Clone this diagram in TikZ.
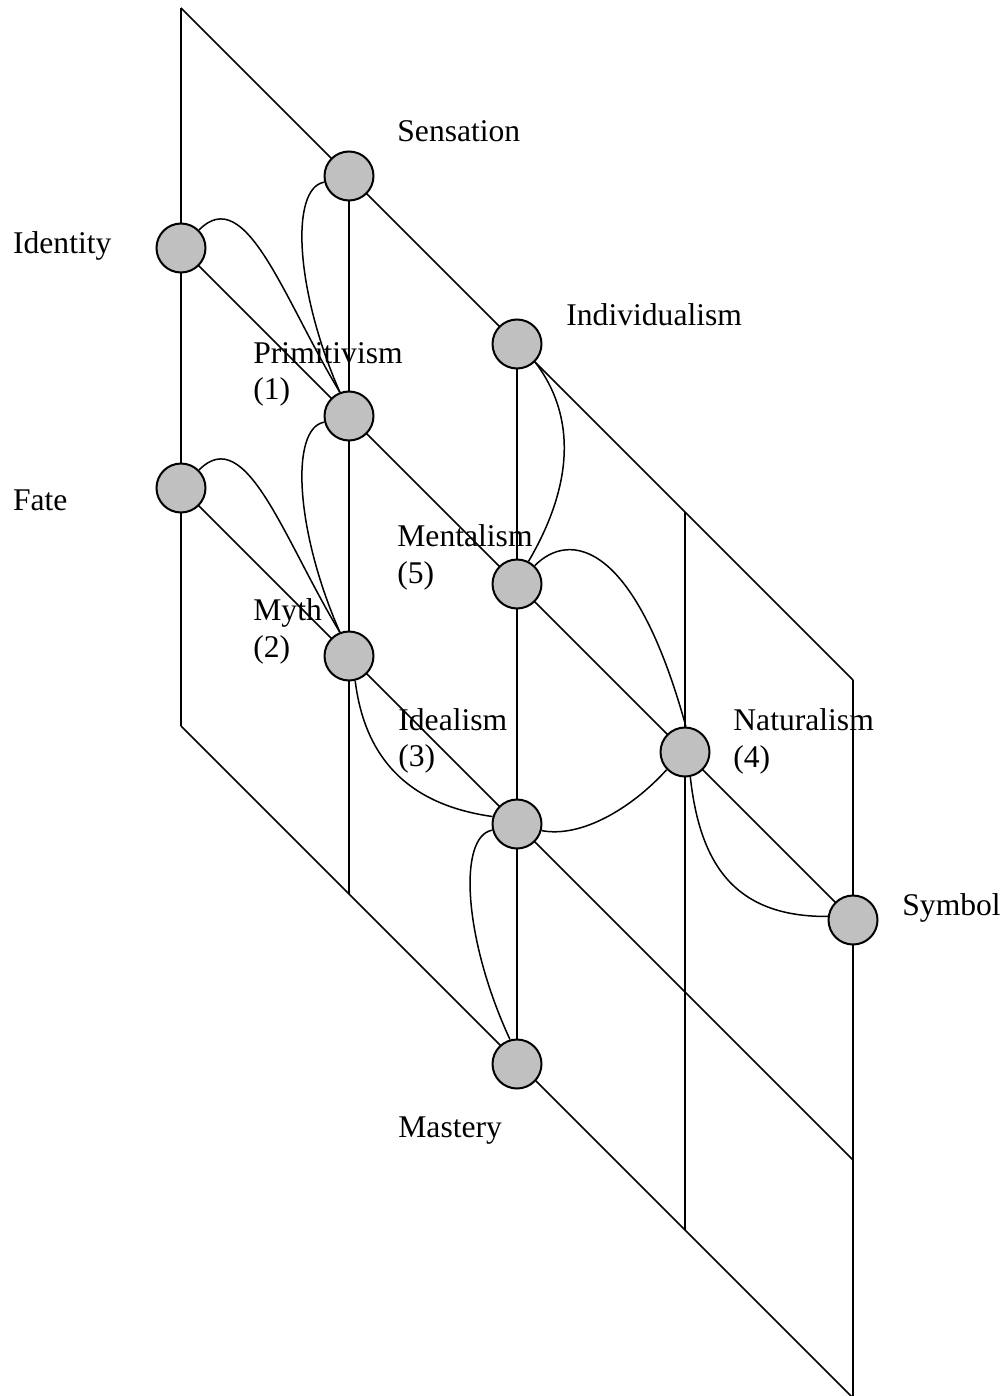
\documentclass[tikz,border=0pt]{standalone}
\usepackage{fontspec}
\setmainfont{Liberation Serif}
\definecolor{nodegray}{HTML}{C0C0C0}
\begin{document}
\begin{tikzpicture}[x=0.5pt,y=-0.5pt,
  gridline/.style={line width=0.75pt},
  curveline/.style={line width=0.75pt},
  concept/.style={circle,draw,line width=1pt,fill=nodegray,minimum size=24.5pt,inner sep=0pt},
  lbl/.style={anchor=base west,inner sep=0pt,align=left,font=\fontsize{15.8}{18.3}\selectfont}]
\useasboundingbox (0,0) rectangle (1006,1396);
% grid corners
\coordinate (a0) at (181,8);   \coordinate (a1) at (181,726);
\coordinate (b0) at (349,176); \coordinate (b1) at (349,894);
\coordinate (c0) at (517,344); \coordinate (c1) at (517,1062);
\coordinate (d0) at (685,512); \coordinate (d1) at (685,1230);
\coordinate (e0) at (853,680); \coordinate (e1) at (853,1398);
\coordinate (r1) at (181,248); \coordinate (s1) at (853,920);
\coordinate (r2) at (181,488); \coordinate (s2) at (853,1160);
% grid
\draw[gridline] (a0) -- (a1);
\draw[gridline] (b0) -- (b1);
\draw[gridline] (c0) -- (c1);
\draw[gridline] (d0) -- (d1);
\draw[gridline] (e0) -- (e1);
\draw[gridline] (a0) -- (e0);
\draw[gridline] (r1) -- (s1);
\draw[gridline] (r2) -- (s2);
\draw[gridline] (a1) -- (e1);
% nodes
\node[concept] (sens) at (349,176) {};
\node[concept] (iden) at (181,248) {};
\node[concept] (indi) at (517,344) {};
\node[concept] (prim) at (349,416) {};
\node[concept] (fate) at (181,488) {};
\node[concept] (ment) at (517,584) {};
\node[concept] (myth) at (349,656) {};
\node[concept] (natu) at (685,752) {};
\node[concept] (idea) at (517,824) {};
\node[concept] (symb) at (853,920) {};
\node[concept] (mast) at (517,1064) {};
% curves
\draw[curveline] (iden.45) .. controls (246,182) and (284,300) .. (prim.111);
\draw[curveline] (sens.194) .. controls (290,188) and (295,290) .. (prim.111);
\draw[curveline] (fate.45) .. controls (246,422) and (284,540) .. (myth.111);
\draw[curveline] (prim.194) .. controls (290,428) and (295,530) .. (myth.111);
\draw[curveline] (indi.-45) .. controls (568,405) and (582,470) .. (ment.63);
\draw[curveline] (ment.46) .. controls (570,530) and (635,542) .. (natu.88);
\draw[curveline] (idea.-15) .. controls (580,838) and (630,810) .. (natu.224);
\draw[curveline] (myth.-76) .. controls (365,760) and (410,805) .. (idea.163);
\draw[curveline] (idea.194) .. controls (458,836) and (463,938) .. (mast.106);
\draw[curveline] (natu.-78) .. controls (700,865) and (735,917) .. (symb.172);
% labels
\node[lbl] (lsens) at (397,142) {Sensation};
\node[lbl] (liden) at (12.7,253.3) {Identity};
\node[lbl] (lindi) at (566,325) {Individualism};
\node[lbl] (lprim) at (253,399.6) {Primitivism\\(1)};
\node[lbl] (lfate) at (12.7,510.7) {Fate};
\node[lbl] (lment) at (397,583.5) {Mentalism\\(5)};
\node[lbl] (lmyth) at (253,657) {Myth\\(2)};
\node[lbl] (lidea) at (398,766.7) {Idealism\\(3)};
\node[lbl] (lnatu) at (733,767) {Naturalism\\(4)};
\node[lbl] (lsymb) at (902,915) {Symbol};
\node[lbl] (lmast) at (398,1137) {Mastery};
\end{tikzpicture}
\end{document}
